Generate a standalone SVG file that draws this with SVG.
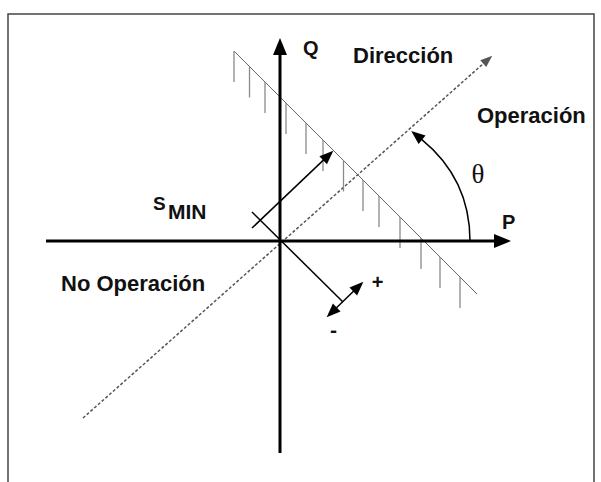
<svg xmlns="http://www.w3.org/2000/svg" width="601" height="482" viewBox="0 0 601 482">
  <style>
    .lbl { font-family: "Liberation Sans", Arial, sans-serif; font-weight: bold; fill: #111; }
    .axis { stroke: #000; stroke-width: 3; fill: none; }
    .thin { stroke: #000; stroke-width: 1.5; fill: none; }
    .bound { stroke: #666; stroke-width: 1; fill: none; }
    .hatch { stroke: #8a8a8a; stroke-width: 1.3; fill: none; }
    .dash { stroke: #555; stroke-width: 1.5; stroke-dasharray: 3 2; fill: none; }
  </style>
  <defs>
    <marker id="ax" markerUnits="userSpaceOnUse" markerWidth="18" markerHeight="14" refX="1" refY="0" orient="auto" overflow="visible">
      <path d="M0,-7 L17,0 L0,7 Z" fill="#000" stroke="none"/>
    </marker>
    <marker id="sm" markerUnits="userSpaceOnUse" markerWidth="15" markerHeight="12" refX="1" refY="0" orient="auto-start-reverse" overflow="visible">
      <path d="M0,-5.5 L14,0 L0,5.5 Z" fill="#000" stroke="none"/>
    </marker>
    <marker id="dg" markerUnits="userSpaceOnUse" markerWidth="13" markerHeight="10" refX="1" refY="0" orient="auto" overflow="visible">
      <path d="M0,-4.5 L12,0 L0,4.5 Z" fill="#555" stroke="none"/>
    </marker>
  </defs>

  <rect id="frame" x="8" y="14" width="586" height="500" fill="none" stroke="#444" stroke-width="1.5"/>

  <g id="connectors">
    <!-- direction (dashed) -->
    <line class="dash" x1="83" y1="418" x2="484" y2="63" marker-end="url(#dg)"/>
    <!-- boundary line with hatching -->
    <line class="bound" x1="234" y1="51" x2="477" y2="294"/>
    <g class="hatch">
      <line x1="234" y1="51" x2="234" y2="82"/>
      <line x1="249.5" y1="66.5" x2="249.5" y2="97.5"/>
      <line x1="265" y1="82" x2="265" y2="113"/>
      <line x1="286" y1="103" x2="286" y2="134"/>
      <line x1="306" y1="123" x2="306" y2="154"/>
      <line x1="323" y1="140" x2="323" y2="171"/>
      <line x1="343.5" y1="160.5" x2="343.5" y2="191.5"/>
      <line x1="363" y1="180" x2="363" y2="211"/>
      <line x1="379" y1="196" x2="379" y2="227"/>
      <line x1="400" y1="217" x2="400" y2="248"/>
      <line x1="421" y1="238" x2="421" y2="269"/>
      <line x1="440" y1="257" x2="440" y2="288"/>
      <line x1="460" y1="277" x2="460" y2="308"/>
    </g>
    <!-- axes -->
    <line class="axis" x1="280" y1="453" x2="280" y2="54" marker-end="url(#ax)"/>
    <line class="axis" x1="46" y1="241" x2="495" y2="241" marker-end="url(#ax)"/>
    <!-- perpendicular through origin -->
    <line class="thin" x1="252" y1="212" x2="343" y2="302"/>
    <!-- S_MIN arrow -->
    <line class="thin" x1="252" y1="228" x2="323.9" y2="159.6" marker-end="url(#sm)"/>
    <!-- +/- double arrow -->
    <line class="thin" x1="336" y1="308.2" x2="354" y2="290.8" marker-start="url(#sm)" marker-end="url(#sm)"/>
    <!-- theta arc -->
    <path class="thin" d="M470,241 C470,200 453,165 421.3,139.2" marker-end="url(#sm)"/>
  </g>

  <g id="labels">
    <g id="q"><text class="lbl" x="303" y="55" font-size="20">Q</text></g>
    <g id="p"><text class="lbl" x="502" y="229" font-size="20">P</text></g>
    <g id="direccion"><text class="lbl" x="353" y="63" font-size="22">Dirección</text></g>
    <g id="operacion"><text class="lbl" x="477" y="123" font-size="22">Operación</text></g>
    <g id="no-operacion"><text class="lbl" x="61" y="291" font-size="22">No Operación</text></g>
    <g id="smin"><text class="lbl" x="153" y="210" font-size="19">S</text><text class="lbl" x="168" y="219" font-size="21">MIN</text></g>
    <g id="theta"><text x="478" y="183" font-size="27" text-anchor="middle" font-family="'Liberation Serif', 'Times New Roman', serif" fill="#111">θ</text></g>
    <g id="plus"><text class="lbl" x="377.5" y="289" font-size="20" text-anchor="middle">+</text></g>
    <g id="minus"><text class="lbl" x="333.5" y="337" font-size="21" text-anchor="middle">-</text></g>
  </g>
</svg>
